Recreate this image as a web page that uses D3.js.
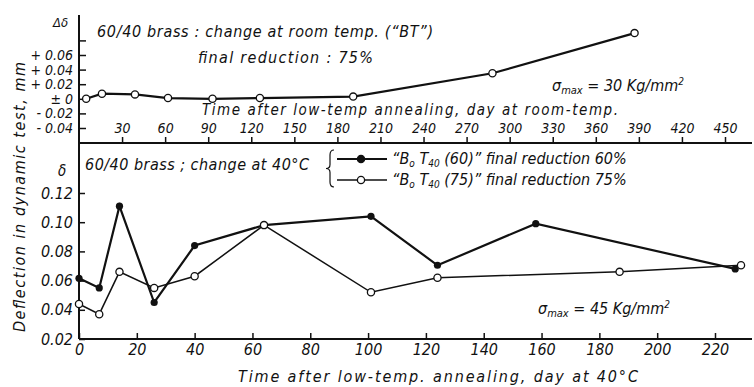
<!DOCTYPE html>
<html>
<head>
<meta charset="utf-8">
<script src="https://cdn.jsdelivr.net/npm/d3@7"></script>
<style>
  body { margin: 0; background: #fff; }
  svg { display: block; }
  text { font-family: "Liberation Sans Narrow", "DejaVu Sans Condensed", "Liberation Sans", sans-serif; font-style: italic; fill: #111; }
</style>
</head>
<body>
<div id="chart"></div>
<script>
// Top panel: change at room temp (BT)
var topDays = [5, 16, 39, 62, 93, 126, 191, 288, 387];
var topDelta = [0, 0.007, 0.006, 0.001, 0, 0.001, 0.003, 0.035, 0.09];
var topXTicks = [30, 60, 90, 120, 150, 180, 210, 240, 270, 300, 330, 360, 390, 420, 450];
var topYTicks = [-0.04, -0.02, 0, 0.02, 0.04, 0.06, 0.08];
var topYLabels = ["- 0.04", "- 0.02", "± 0", "+ 0.02", "+ 0.04", "+ 0.06", ""];

// Bottom panel: change at 40°C
var days60 = [0, 7, 14, 26, 40, 64, 101, 124, 158, 227];
var defl60 = [0.0616, 0.055, 0.111, 0.045, 0.084, 0.098, 0.104, 0.0705, 0.099, 0.068];
var days75 = [0, 7, 14, 26, 40, 64, 101, 124, 187, 229];
var defl75 = [0.044, 0.037, 0.066, 0.055, 0.063, 0.098, 0.052, 0.062, 0.066, 0.0705];
var botXTicks = [0, 20, 40, 60, 80, 100, 120, 140, 160, 180, 200, 220];
var botYTicks = [0.02, 0.04, 0.06, 0.08, 0.10, 0.12];

var width = 754, height = 387;
var axisLeftX = 79;
var midY = 143;     // shared line between panels
var bottomY = 339;

var svg = d3.select("#chart").append("svg")
    .attr("width", width)
    .attr("height", height);

// scales
var xTop = d3.scaleLinear().domain([0, 450]).range([axisLeftX, 725]);
var yTop = d3.scaleLinear().domain([-0.04, 0.06]).range([128, 55]);
var xBot = d3.scaleLinear().domain([0, 220]).range([axisLeftX, 715]);
var yBot = d3.scaleLinear().domain([0.02, 0.12]).range([bottomY, 193]);

// frame lines
svg.append("line").attr("x1", axisLeftX).attr("x2", axisLeftX).attr("y1", 15).attr("y2", bottomY)
    .attr("stroke", "#111").attr("stroke-width", 2);
svg.append("line").attr("x1", axisLeftX).attr("x2", 752).attr("y1", midY).attr("y2", midY)
    .attr("stroke", "#111").attr("stroke-width", 2);
svg.append("line").attr("x1", axisLeftX).attr("x2", 752).attr("y1", bottomY).attr("y2", bottomY)
    .attr("stroke", "#111").attr("stroke-width", 2);

function styleAxis(g, size) {
  g.select(".domain").remove();
  g.selectAll(".tick line").attr("stroke", "#111").attr("stroke-width", 1.5);
  g.selectAll(".tick text").style("font-size", size + "px").attr("fill", "#111");
}

// top x axis (labels above the shared line)
svg.append("g").attr("transform", "translate(0," + midY + ")")
    .call(d3.axisTop(xTop).tickValues(topXTicks).tickSize(6).tickPadding(4).tickFormat(d3.format("d")))
    .call(styleAxis, 14);

// top y axis
svg.append("g").attr("transform", "translate(" + axisLeftX + ",0)")
    .call(d3.axisLeft(yTop).tickValues(topYTicks).tickSize(-7).tickPadding(6)
      .tickFormat(function(d, i) { return topYLabels[i]; }))
    .call(styleAxis, 14);

// bottom x axis
svg.append("g").attr("transform", "translate(0," + bottomY + ")")
    .call(d3.axisBottom(xBot).tickValues(botXTicks).tickSize(-6).tickPadding(5).tickFormat(d3.format("d")))
    .call(styleAxis, 16);

// bottom y axis
svg.append("g").attr("transform", "translate(" + axisLeftX + ",0)")
    .call(d3.axisLeft(yBot).tickValues(botYTicks).tickSize(-6).tickPadding(6).tickFormat(d3.format(".2f")))
    .call(styleAxis, 16);

// series
var lineTop = d3.line().x(function(d) { return xTop(d[0]); }).y(function(d) { return yTop(d[1]); });
var topData = topDays.map(function(d, i) { return [d, topDelta[i]]; });
svg.append("path").datum(topData).attr("d", lineTop)
    .attr("fill", "none").attr("stroke", "#111").attr("stroke-width", 2.2);
svg.selectAll(".ptTop").data(topData).enter().append("circle")
    .attr("class", "ptTop")
    .attr("cx", function(d) { return xTop(d[0]); })
    .attr("cy", function(d) { return yTop(d[1]); })
    .attr("r", 3.6).attr("fill", "#fff").attr("stroke", "#111").attr("stroke-width", 1.3);

var lineBot = d3.line().x(function(d) { return xBot(d[0]); }).y(function(d) { return yBot(d[1]); });
var data60 = days60.map(function(d, i) { return [d, defl60[i]]; });
var data75 = days75.map(function(d, i) { return [d, defl75[i]]; });

svg.append("path").datum(data60).attr("d", lineBot)
    .attr("fill", "none").attr("stroke", "#111").attr("stroke-width", 2.2);
svg.append("path").datum(data75).attr("d", lineBot)
    .attr("fill", "none").attr("stroke", "#111").attr("stroke-width", 1.5);

svg.selectAll(".pt60").data(data60).enter().append("circle")
    .attr("class", "pt60")
    .attr("cx", function(d) { return xBot(d[0]); })
    .attr("cy", function(d) { return yBot(d[1]); })
    .attr("r", 3.6).attr("fill", "#111");
svg.selectAll(".pt75").data(data75).enter().append("circle")
    .attr("class", "pt75")
    .attr("cx", function(d) { return xBot(d[0]); })
    .attr("cy", function(d) { return yBot(d[1]); })
    .attr("r", 3.6).attr("fill", "#fff").attr("stroke", "#111").attr("stroke-width", 1.3);

// labels
function label(x, y, txt, size, len) {
  var t = svg.append("text").attr("x", x).attr("y", y).style("font-size", size + "px").text(txt);
  if (len) t.attr("textLength", len).attr("lengthAdjust", "spacing");
  return t;
}

label(53, 27, "Δδ", 13);
label(97, 37, "60/40 brass : change at room temp. (“BT”)", 16, 336);
label(198, 63, "final reduction : 75%", 16, 175);
label(202, 115, "Time after low-temp annealing, day at room-temp.", 15, 416);

var s1 = svg.append("text").attr("x", 552).attr("y", 91).style("font-size", "16px");
s1.append("tspan").text("σ");
s1.append("tspan").attr("dy", 3).style("font-size", "11px").text("max");
s1.append("tspan").attr("dy", -3).text(" = 30 Kg/mm");
s1.append("tspan").attr("dy", -6).style("font-size", "10px").text("2");

label(58, 176, "δ", 15);
label(85, 170, "60/40 brass ; change at 40°C", 16, 224);
label(238, 382, "Time after low-temp. annealing, day at 40°C", 16, 400);

var s2 = svg.append("text").attr("x", 538).attr("y", 314).style("font-size", "16px");
s2.append("tspan").text("σ");
s2.append("tspan").attr("dy", 3).style("font-size", "11px").text("max");
s2.append("tspan").attr("dy", -3).text(" = 45 Kg/mm");
s2.append("tspan").attr("dy", -6).style("font-size", "10px").text("2");

// y title
svg.append("text")
    .attr("transform", "translate(25,332) rotate(-90)")
    .attr("textLength", 270).attr("lengthAdjust", "spacing")
    .style("font-size", "16px")
    .text("Deflection in dynamic test, mm");

// legend brace
var bx = 330, by0 = 150, by1 = 187, bm = (by0 + by1) / 2;
var brace = d3.path();
brace.moveTo(bx + 4, by0);
brace.quadraticCurveTo(bx, by0, bx, by0 + 5);
brace.lineTo(bx, bm - 4);
brace.quadraticCurveTo(bx, bm, bx - 4, bm);
brace.quadraticCurveTo(bx, bm, bx, bm + 4);
brace.lineTo(bx, by1 - 5);
brace.quadraticCurveTo(bx, by1, bx + 4, by1);
svg.append("path").attr("d", brace.toString())
    .attr("fill", "none").attr("stroke", "#111").attr("stroke-width", 1.2);

var legendRows = [
  { y: 159, filled: true, num: "60", pct: "60%" },
  { y: 180, filled: false, num: "75", pct: "75%" }
];
legendRows.forEach(function(r) {
  svg.append("line").attr("x1", 337).attr("x2", 387).attr("y1", r.y).attr("y2", r.y)
      .attr("stroke", "#111").attr("stroke-width", r.filled ? 2.2 : 1.5);
  svg.append("circle").attr("cx", 361).attr("cy", r.y).attr("r", 3.6)
      .attr("fill", r.filled ? "#111" : "#fff").attr("stroke", "#111").attr("stroke-width", 1.3);
  var t = svg.append("text").attr("x", 392).attr("y", r.y + 5).style("font-size", "16px");
  t.append("tspan").text("“B");
  t.append("tspan").attr("dy", 3).style("font-size", "10px").text("o");
  t.append("tspan").attr("dy", -3).text(" T");
  t.append("tspan").attr("dy", 3).style("font-size", "10px").text("40");
  t.append("tspan").attr("dy", -3).text(" (" + r.num + ")”  final reduction " + r.pct);
});
</script>
</body>
</html>
